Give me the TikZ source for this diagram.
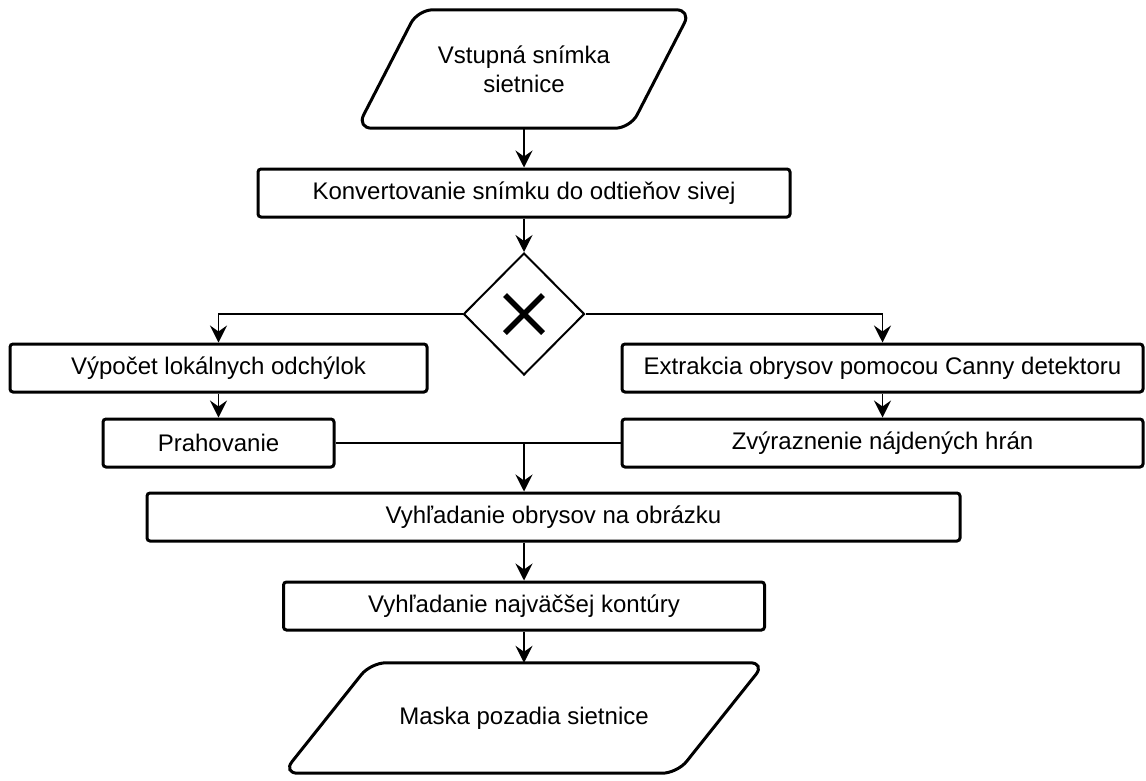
\documentclass[tikz,border=0pt]{standalone}
\usepackage{fontspec}
\setmainfont{Liberation Sans}
\usetikzlibrary{arrows.meta,shapes.geometric,calc}

\begin{document}
\begin{tikzpicture}[x=1pt,y=-1pt,
  every node/.style={font=\fontsize{24}{29}\selectfont},
  procbox/.style={draw, line width=3pt, rounded corners=3pt, minimum height=48pt, inner sep=0pt},
  iobox/.style={inner sep=0pt, align=center},
  iooutline/.style={draw, line width=3pt, rounded corners=15pt},
  conn/.style={line width=1.6pt},
  flow/.style={conn, -{Stealth[length=17pt,width=17pt,inset=6pt]}},
  gate/.style={diamond, draw, line width=2pt, minimum width=121pt, minimum height=122pt, inner sep=0pt, aspect=1},
]
\useasboundingbox (0,0) rectangle (1146,780);

% input / output data shapes (text holders, outlines drawn below)
\node[iobox, minimum width=334pt, minimum height=118pt] (inp) at (524,69) {Vstupná snímka\\sietnice};
\node[iobox, minimum width=482pt, minimum height=110pt] (out) at (524,718) {Maska pozadia sietnice};
\draw[iooutline] ($(inp.north west)+(61,0)$) -- (inp.north east) -- ($(inp.south east)-(61,0)$) -- (inp.south west) -- cycle;
\draw[iooutline] ($(out.north west)+(88,0)$) -- (out.north east) -- ($(out.south east)-(88,0)$) -- (out.south west) -- cycle;

% process steps
\node[procbox, minimum width=532pt] (conv) at (524,193) {Konvertovanie snímku do odtieňov sivej};
\node[gate] (gw) at (524,314) {};
\draw[line width=5.5pt] ($(gw.center)+(-19,-19)$) -- ($(gw.center)+(19,19)$);
\draw[line width=5.5pt] ($(gw.center)+(-19,19)$) -- ($(gw.center)+(19,-19)$);

\node[procbox, minimum width=417pt] (lok) at (218.5,368) {Výpočet lokálnych odchýlok};
\node[procbox, minimum width=521pt] (canny) at (882.5,368) {Extrakcia obrysov pomocou Canny detektoru};
\node[procbox, minimum width=231pt] (prah) at (218.5,443) {Prahovanie};
\node[procbox, minimum width=521pt] (zvyr) at (882.5,443) {Zvýraznenie nájdených hrán};
\node[procbox, minimum width=813pt] (obr) at (553.5,517) {Vyhľadanie obrysov na obrázku};
\node[procbox, minimum width=481pt] (kont) at (524,606) {Vyhľadanie najväčšej kontúry};

% connectors
\draw[flow] (inp.south) -- (conv.north);
\draw[flow] (conv.south) -- (gw.north);
\draw[flow] (gw.west) -| (lok.north);
\draw[flow] (gw.east) -| (canny.north);
\draw[flow] (lok.south) -- (prah.north);
\draw[flow] (canny.south) -- (zvyr.north);
\coordinate (merge) at (kont.north |- prah.east);
\draw[conn] (prah.east) -- (merge);
\draw[conn] (zvyr.west) -- (merge);
\draw[flow] (merge) -- (merge |- obr.north);
\draw[flow] (kont.north |- obr.south) -- (kont.north);
\draw[flow] (kont.south) -- (out.north);
\end{tikzpicture}
\end{document}
